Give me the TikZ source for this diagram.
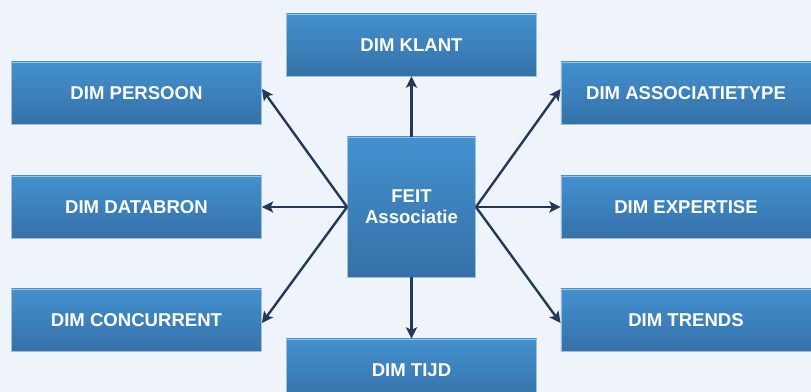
\documentclass[tikz,border=0pt]{standalone}
\usepackage{fontspec}
\setmainfont{Liberation Sans}
\usetikzlibrary{arrows.meta}

\definecolor{bgblue}{HTML}{EFF4FB}
\definecolor{boxtop}{HTML}{4391CE}
\definecolor{boxbot}{HTML}{3571A8}
\definecolor{boxline}{HTML}{9EC0E0}
\definecolor{arrowblue}{HTML}{22395A}

\tikzset{
    dimbox/.style={rectangle, draw=boxline, line width=0.6pt,
        top color=boxtop, bottom color=boxbot,
        minimum width=6.25cm, minimum height=1.55cm,
        text=white, font=\fontsize{13.2}{15}\selectfont\bfseries},
    feitbox/.style={dimbox, minimum width=3.2cm, minimum height=3.5cm,
        align=center, font=\fontsize{13.2}{14.9}\selectfont\bfseries},
    link/.style={draw=arrowblue, line width=1.7pt,
        -{Stealth[length=8pt, width=8pt, inset=1.8pt]}}
}

\begin{document}
\begin{tikzpicture}[x=0.025cm, y=-0.025cm]
        % Background and fixed size of the picture
        \fill[bgblue] (0,0) rectangle (811,392);
        \useasboundingbox (0,0) rectangle (811,392);

        % Fact table in the middle
        \node[feitbox] (feit) at (411.5,207) {FEIT\\Associatie};

        % Dimensions above and below
        \node[dimbox] (klant) at (411.5,45) {DIM KLANT};
        \node[dimbox] (tijd) at (411.5,370) {DIM TIJD};

        % Dimensions on the left
        \node[dimbox] (persoon) at (136.5,93) {DIM PERSOON};
        \node[dimbox] (databron) at (136.5,207) {DIM DATABRON};
        \node[dimbox] (concurrent) at (136.5,320) {DIM CONCURRENT};

        % Dimensions on the right
        \node[dimbox] (assoctype) at (686,93) {DIM ASSOCIATIETYPE};
        \node[dimbox] (expertise) at (686,207) {DIM EXPERTISE};
        \node[dimbox] (trends) at (686,320) {DIM TRENDS};

        % Arrows from the fact table to each dimension
        \draw[link] (feit.north) -- (klant.south);
        \draw[link] (feit.south) -- (tijd.north);
        \draw[link] (feit.west) -- ([yshift=0.1cm]persoon.east);
        \draw[link] (feit.west) -- (databron.east);
        \draw[link] (feit.west) -- ([yshift=-0.075cm]concurrent.east);
        \draw[link] (feit.east) -- ([yshift=0.1cm]assoctype.west);
        \draw[link] (feit.east) -- (expertise.west);
        \draw[link] (feit.east) -- ([yshift=-0.075cm]trends.west);
    \end{tikzpicture}
\end{document}
